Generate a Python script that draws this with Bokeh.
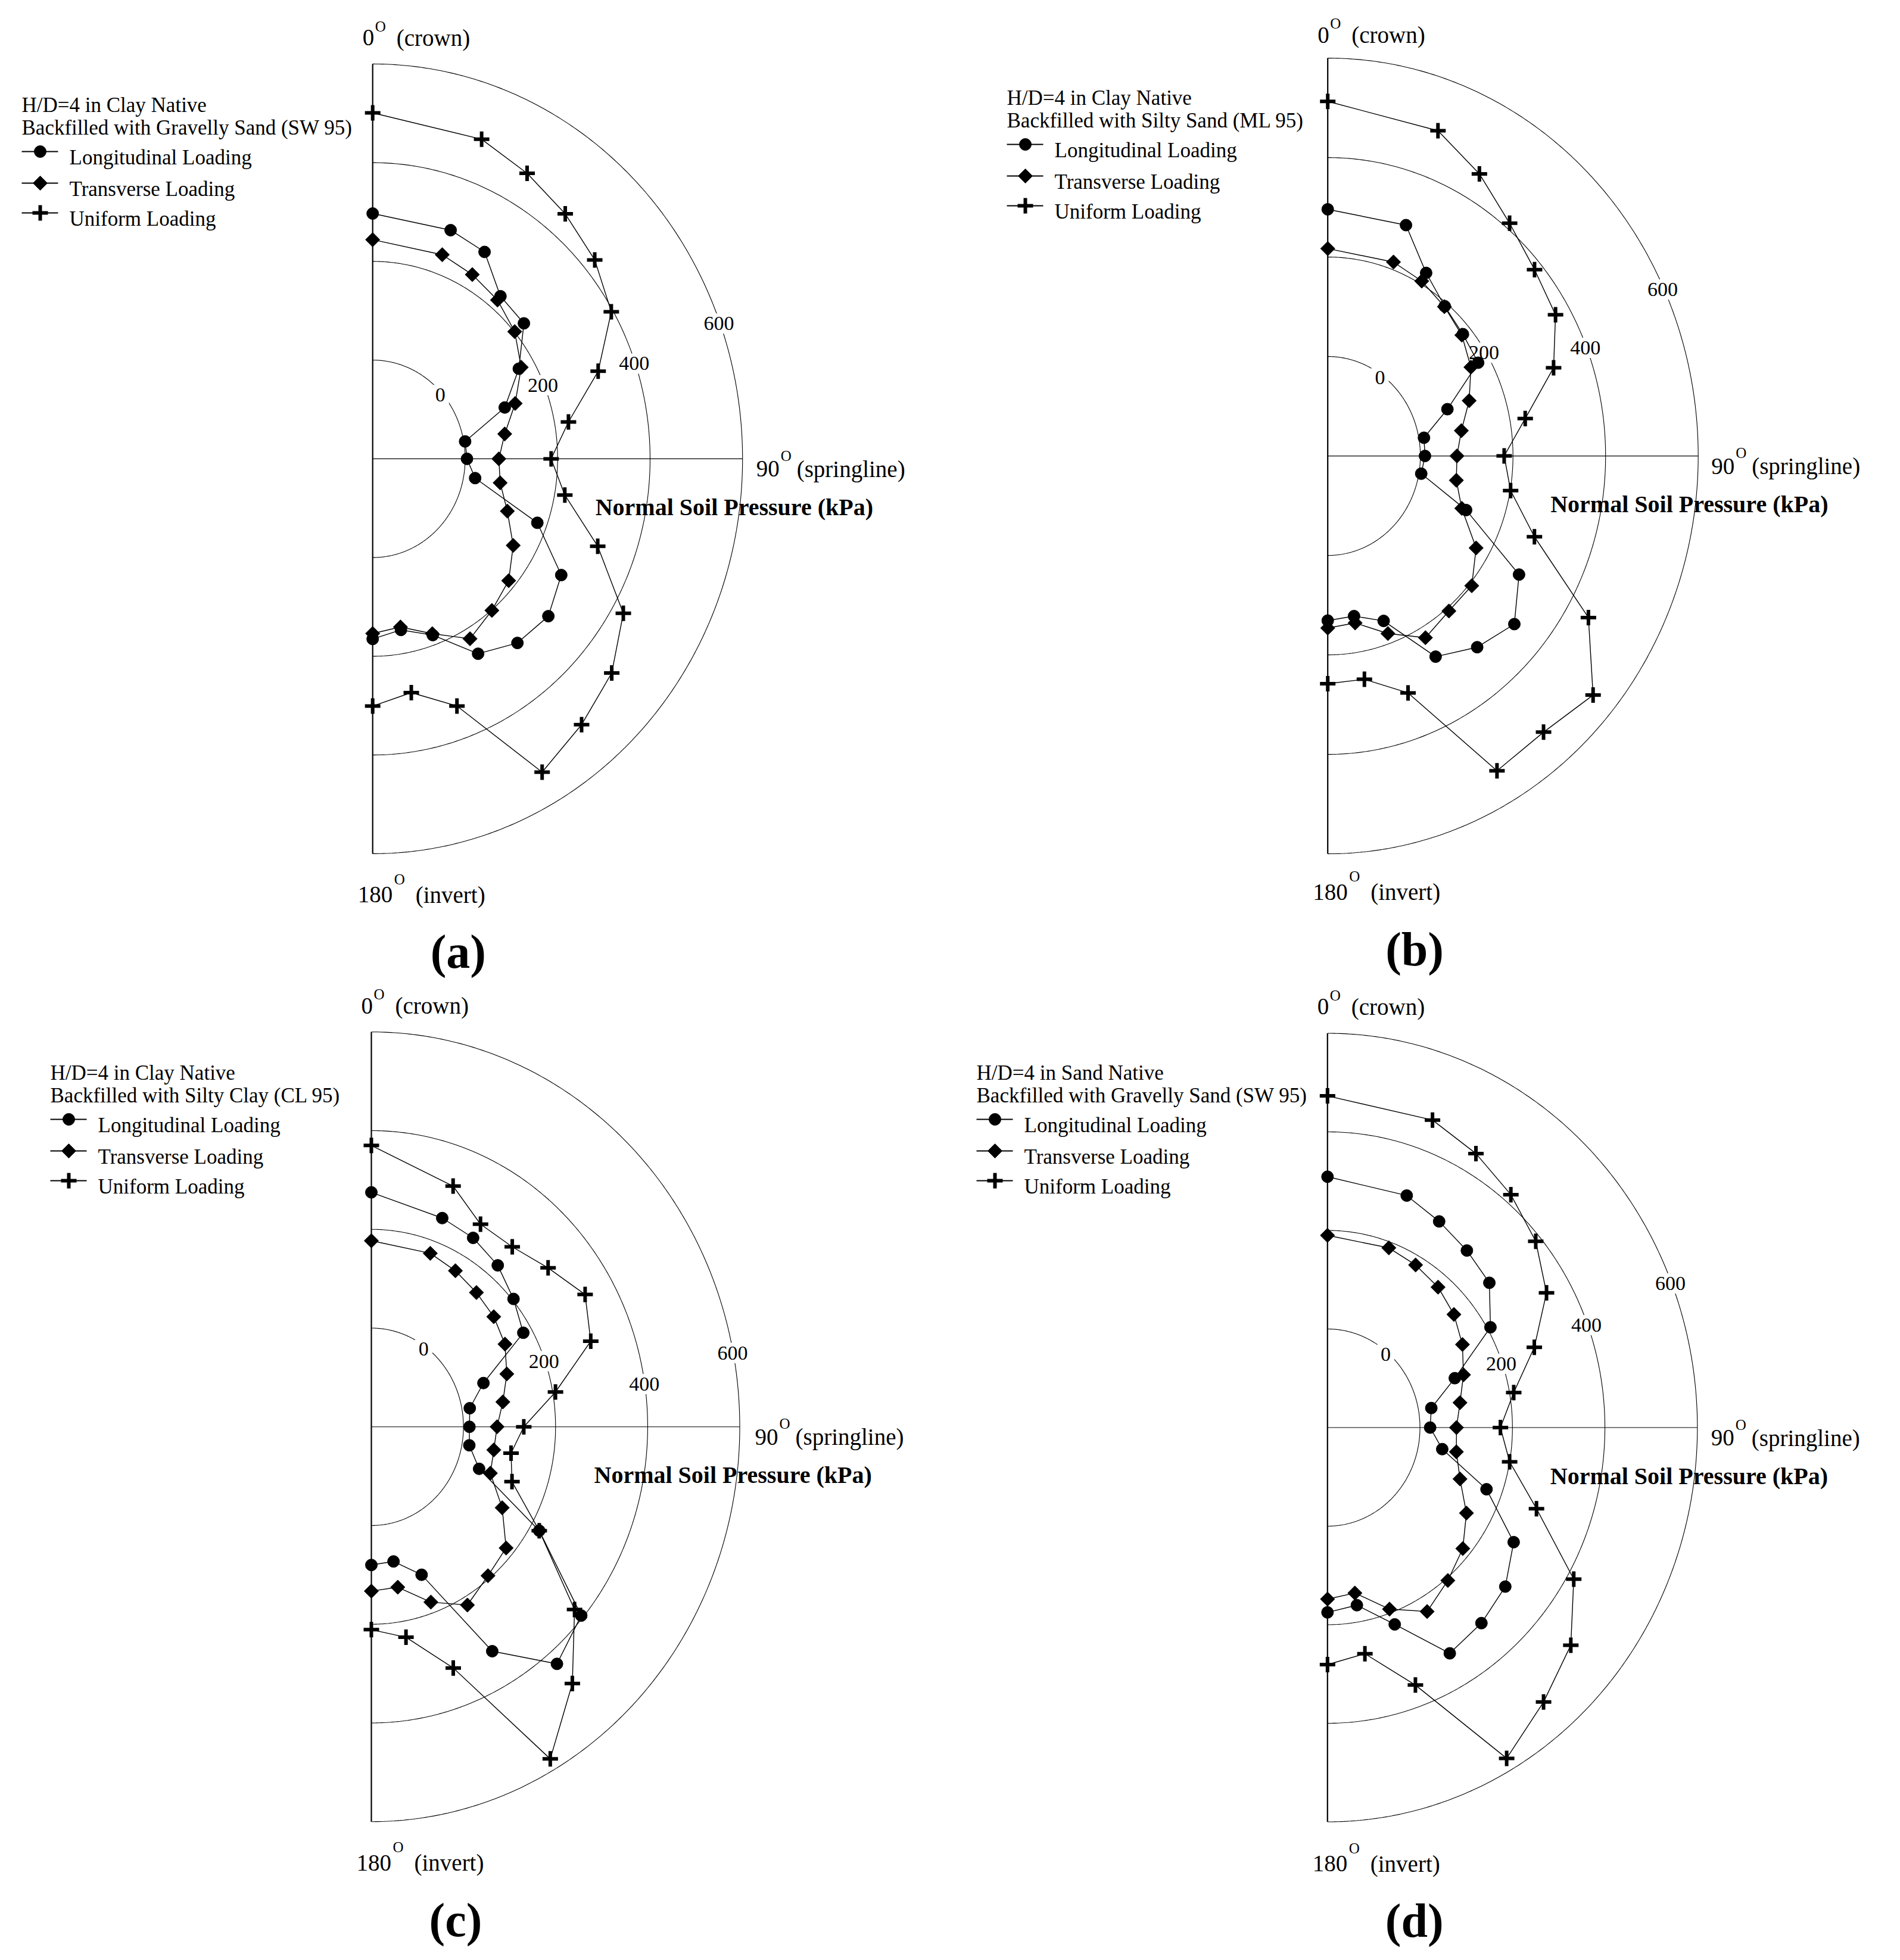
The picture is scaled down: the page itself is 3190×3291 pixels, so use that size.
import numpy as np
from bokeh.plotting import figure
from bokeh.models import Range1d, Label
from bokeh.layouts import column, row
from bokeh.embed import file_html
from bokeh.resources import INLINE

# ---------------- data ----------------
ANGLES_DEG = [0, 20, 30, 40, 50, 60, 70, 80, 90, 100, 110, 120, 130, 140, 150, 160, 170, 180]
RING_TICKS = [0, 200, 400, 600]
R_MIN, R_MAX = -200, 600
SERIES_NAMES = ["Longitudinal Loading", "Transverse Loading", "Uniform Loading"]

long_a = [297, 293, 284, 230, 227, 165, 104, 3, 4, 25, 179, 271, 296, 287, 256, 180, 152, 165]
trans_a = [244, 240, 231, 220, 201, 171, 128, 90, 73, 80, 110, 151, 184, 201, 221, 177, 146, 154]
unif_a = [501, 489, 468, 448, 427, 396, 319, 230, 186, 222, 318, 426, 475, 503, 533, 333, 281, 301]

long_b = [296, 294, 225, 193, 181, 175, 75, 11, 10, 5, 118, 277, 326, 302, 266, 153, 127, 131]
trans_b = [217, 215, 206, 192, 178, 157, 125, 93, 79, 82, 108, 170, 206, 207, 222, 180, 141, 146]
unif_b = [513, 496, 455, 411, 383, 368, 319, 233, 181, 201, 275, 450, 548, 525, 531, 307, 256, 258]

long_c = [275, 250, 242, 227, 203, 181, 59, 17, 13, 16, 49, 221, 395, 427, 325, 119, 77, 80]
trans_c = [177, 174, 165, 155, 147, 135, 113, 90, 73, 70, 75, 128, 182, 194, 217, 178, 130, 133]
unif_c = [370, 319, 274, 276, 301, 336, 307, 206, 131, 108, 125, 221, 376, 479, 577, 320, 233, 211]

long_d = [309, 301, 283, 269, 257, 207, 93, 28, 22, 52, 166, 265, 302, 318, 329, 225, 166, 175]
trans_d = [190, 188, 181, 172, 157, 137, 113, 91, 79, 83, 105, 147, 182, 205, 231, 192, 141, 148]
unif_d = [473, 464, 442, 417, 388, 347, 276, 209, 174, 200, 281, 415, 487, 527, 575, 356, 266, 281]

TAGS = ["(a)", "(b)", "(c)", "(d)"]
NATIVE = ["H/D=4 in Clay Native", "H/D=4 in Clay Native",
          "H/D=4 in Clay Native", "H/D=4 in Sand Native"]
BACKFILL = ["Backfilled with Gravelly Sand (SW 95)", "Backfilled with Silty Sand (ML 95)",
            "Backfilled with Silty Clay (CL 95)", "Backfilled with Gravelly Sand (SW 95)"]
SERIES = [(long_a, trans_a, unif_a), (long_b, trans_b, unif_b),
          (long_c, trans_c, unif_c), (long_d, trans_d, unif_d)]

# ---------------- layout / style ----------------
FONT = "Liberation Serif"
W = 1587
H_TOP, H_BOT = 1642, 1632
GEOM = [
    dict(h=H_TOP, cx=625.2, cy=769.9, rh=621.0, rv=663.0, leg=(36, 176), lab=(47, 67, 70.5, 69.4)),
    dict(h=H_TOP, cx=641.7, cy=765.1, rh=622.0, rv=668.0, leg=(103, 164), lab=(34.4, 57.5, 68, 64.7)),
    dict(h=H_BOT, cx=623.0, cy=753.2, rh=618.5, rv=663.0, leg=(84, 159), lab=(34.6, 69.5, 81, 78.7)),
    dict(h=H_BOT, cx=641.3, cy=754.5, rh=621.0, rv=662.0, leg=(52, 159), lab=(39, 70, 69, 68)),
]
SPAN = R_MAX - R_MIN


def to_xy(vals, angles):
    th = np.radians(np.asarray(angles, dtype=float))
    rr = np.asarray(vals, dtype=float) - R_MIN
    return rr * np.sin(th), rr * np.cos(th)


def px(G, dx, dy):
    # pixel offsets from the panel centre (y downward) -> data units
    return dx * SPAN / G["rh"], -dy * SPAN / G["rv"]


def label(p, G, dx, dy, text, size, bold=False, align="left", baseline="alphabetic"):
    x, y = px(G, dx, dy)
    p.add_layout(Label(x=x, y=y, text=text, text_font=FONT, text_font_size=f"{size}px",
                       text_font_style="bold" if bold else "normal", text_align=align,
                       text_baseline=baseline, text_color="black"))


def add_marker(p, x, y, kind):
    if kind == 0:
        p.scatter(x, y, marker="circle", size=20, fill_color="black", line_color="black")
    elif kind == 1:
        p.scatter(x, y, marker="square", angle=np.pi / 4, size=17,
                  fill_color="black", line_color="black")
    else:
        p.scatter(x, y, marker="cross", size=26, line_color="black", line_width=6)


def make_panel(i):
    G = GEOM[i]
    H = G["h"]
    kx = SPAN / G["rh"]
    ky = SPAN / G["rv"]
    p = figure(width=W, height=H,
               x_range=Range1d(-G["cx"] * kx, (W - G["cx"]) * kx),
               y_range=Range1d(-(H - G["cy"]) * ky, G["cy"] * ky),
               output_backend="svg", toolbar_location=None,
               x_axis_location=None, y_axis_location=None, min_border=0,
               outline_line_color=None, background_fill_color="white",
               border_fill_color="white")
    p.grid.visible = False

    # rings
    t = np.linspace(0, 180, 361)
    for v in RING_TICKS:
        xr, yr = to_xy(np.full_like(t, v), t)
        r = p.line(xr, yr, line_color="black", line_width=1.1)
        r.level = "image"
    # vertical axis and springline spoke
    xa, ya = to_xy([R_MAX, R_MAX], [0, 180])
    r = p.line(xa, ya, line_color="black", line_width=2.2)
    r.level = "image"
    xs, ys = to_xy([R_MIN, R_MAX], [90, 90])
    r = p.line(xs, ys, line_color="black", line_width=1.1)
    r.level = "image"

    # ring labels with white background (breaks ring)
    for v, ang in zip(RING_TICKS, G["lab"]):
        lx, ly = to_xy([v], [ang])
        lab = Label(x=float(lx[0]), y=float(ly[0]), text=str(v), text_font=FONT,
                    text_font_size="34px", text_align="center", text_baseline="middle",
                    y_offset=-6,
                    background_fill_color="white", background_fill_alpha=1.0,
                    padding=6, text_color="black")
        lab.level = "underlay"
        p.add_layout(lab)

    # data series
    for k, vals in enumerate(SERIES[i]):
        x, y = to_xy(vals, ANGLES_DEG)
        p.line(x, y, line_color="black", line_width=1.4)
        add_marker(p, x, y, k)

    # axis-position labels
    label(p, G, -17, -707, "0", 39)
    label(p, G, 4, -726, "O", 25)
    label(p, G, 40, -707, "(crown)", 39)

    label(p, G, -25, 732, "180", 39)
    label(p, G, 36, 706, "O", 25)
    label(p, G, 72, 732, "(invert)", 39)

    label(p, G, 644, 17, "90", 39)
    label(p, G, 685, -5, "O", 25)
    label(p, G, 712, 17, "(springline)", 39)

    label(p, G, 374, 81, "Normal Soil Pressure (kPa)", 40, bold=True)
    label(p, G, 97, 828, TAGS[i], 80, bold=True)

    # legend
    L, B = G["leg"]
    cx, cy = G["cx"], G["cy"]
    label(p, G, L - cx, B - cy, NATIVE[i], 35)
    label(p, G, L - cx, B + 38 - cy, BACKFILL[i], 35)
    for k, name in enumerate(SERIES_NAMES):
        tb = B + [88, 141, 191][k]
        mb = tb - 10
        x0, y0 = px(G, L - cx, mb - cy)
        x1, _ = px(G, L + 61 - cx, mb - cy)
        xm, _ = px(G, L + 31 - cx, mb - cy)
        p.line([x0, x1], [y0, y0], line_color="black", line_width=2)
        add_marker(p, [xm], [y0], k)
        label(p, G, L + 80 - cx, tb - cy, name, 35)
    return p


panels = [make_panel(i) for i in range(4)]
layout = column(row(panels[0], panels[1], spacing=0), row(panels[2], panels[3], spacing=0), spacing=0)

open("out.html", "w").write(file_html(layout, INLINE))
